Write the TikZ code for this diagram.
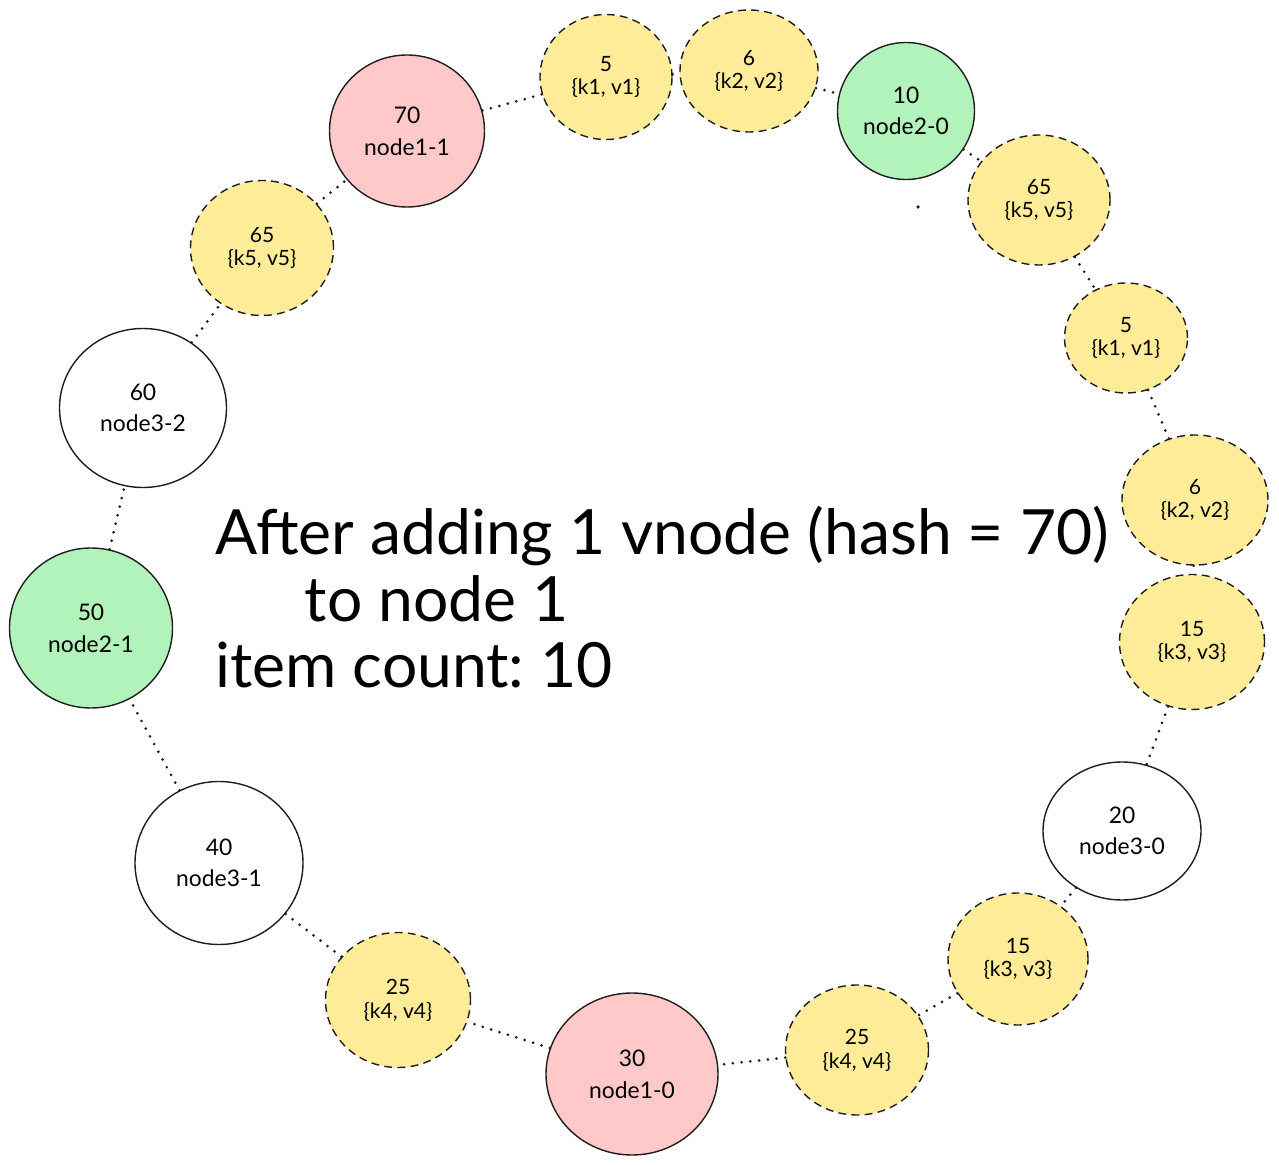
\documentclass[tikz,border=0pt]{standalone}
\usepackage{fontspec}
\setmainfont{Lato}
\usepackage{tikz}
\usetikzlibrary{shapes.geometric}
\definecolor{strokeColor}{RGB}{30,30,30}
\definecolor{pinkFill}{HTML}{FFC9C9}
\definecolor{greenFill}{HTML}{B2F2BB}
\definecolor{yellowFill}{HTML}{FFEC99}
\tikzstyle{ring} = [x = 0.02cm, y = -0.02cm]
\tikzstyle{vnodeStyle} = [ellipse, draw=strokeColor, line width=0.8pt, align=center, inner sep=0pt, font=\fontsize{13}{18}\selectfont]
\tikzstyle{itemStyle} = [ellipse, draw=strokeColor, fill=yellowFill, dash pattern=on 4.5pt off 3pt, line width=0.8pt, align=center, inner sep=0pt, font=\fontsize{12}{13.6}\selectfont]
\tikzstyle{ringLine} = [color=strokeColor, line width=1.7pt, line cap=round, dash pattern=on 0pt off 5pt]
\tikzstyle{titleText} = [font=\fontsize{35.5}{38}\selectfont\frenchspacing, align=left, anchor=base west, inner sep=0pt]
\newcommand{\vnode}[7]{\node [vnodeStyle, fill=#6, minimum width=#4*0.02cm, minimum height=#5*0.02cm] (#1) at (#2,#3) {#7};}
\newcommand{\itemNode}[6]{\node [itemStyle, minimum width=#4*0.02cm, minimum height=#5*0.02cm] (#1) at (#2,#3) {#6};}

\begin{document}
\begin{tikzpicture}[ring]
  \useasboundingbox (0,0) rectangle (1279,1165);

  % physical node vnodes
  \vnode{n70}{407}{131}{155}{152}{pinkFill}{70\\node1-1}
  \vnode{n10}{906}{111}{137}{137}{greenFill}{10\\node2-0}
  \vnode{n20}{1122}{831}{158}{138}{white}{20\\node3-0}
  \vnode{n30}{632}{1074}{172}{162}{pinkFill}{30\\node1-0}
  \vnode{n40}{219}{863}{168}{163}{white}{40\\node3-1}
  \vnode{n50}{91}{628}{163}{160}{greenFill}{50\\node2-1}
  \vnode{n60}{143}{408}{167}{159}{white}{60\\node3-2}

  % stored items
  \itemNode{y5a}{606}{77}{132}{125}{5\\\{k1, v1\}}
  \itemNode{y6a}{749}{71}{138}{122}{6\\\{k2, v2\}}
  \itemNode{y65a}{1039}{200}{142}{130}{65\\\{k5, v5\}}
  \itemNode{y5b}{1126}{338}{123}{110}{5\\\{k1, v1\}}
  \itemNode{y6b}{1195}{500}{146}{130}{6\\\{k2, v2\}}
  \itemNode{y15a}{1192}{642}{145}{135}{15\\\{k3, v3\}}
  \itemNode{y15b}{1018}{959}{140}{132}{15\\\{k3, v3\}}
  \itemNode{y25a}{857}{1050}{143}{130}{25\\\{k4, v4\}}
  \itemNode{y25b}{398}{1000}{145}{135}{25\\\{k4, v4\}}
  \itemNode{y65b}{262}{248}{143}{135}{65\\\{k5, v5\}}

  % the ring
  \foreach \from/\to in {n70/y5a, y5a/y6a, y6a/n10, n10/y65a, y65a/y5b, y5b/y6b, y6b/y15a,
      y15a/n20, n20/y15b, y15b/y25a, y25a/n30, n30/y25b, y25b/n40, n40/n50, n50/n60,
      n60/y65b, y65b/n70}
    \draw [ringLine] (\from) -- (\to);

  \fill [strokeColor] (918,207) circle (1pt);

  % base anchor sits on the last line
  \node [titleText] (title) at (215,688) {After adding 1 vnode (hash = 70)\\\hspace*{51pt}to node 1\\item count: 10};
\end{tikzpicture}
\end{document}
